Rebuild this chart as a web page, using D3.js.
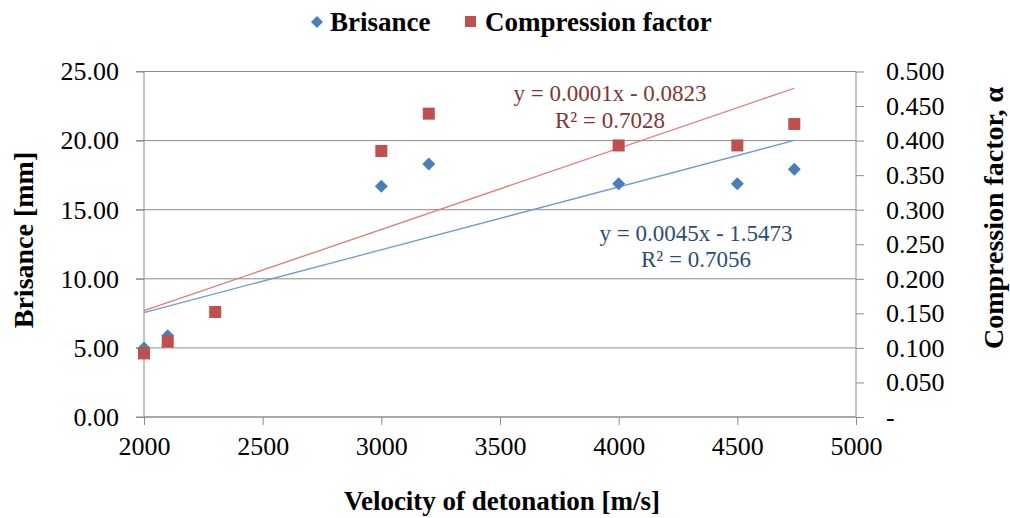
<!DOCTYPE html>
<html>
<head>
<meta charset="utf-8">
<script src="https://cdn.jsdelivr.net/npm/d3@7"></script>
<style>
body { margin: 0; background: #fff; }
svg, svg text { font-family: "Times New Roman", "Liberation Serif", Tinos, "DejaVu Serif", serif; }
</style>
</head>
<body>
<svg id="chart" width="1010" height="518"></svg>
<script>
// data
var velocity = [2000, 2100, 2300, 3000, 3200, 4000, 4500, 4740];
var brisance = [5.0, 5.88, 7.6, 16.7, 18.3, 16.88, 16.88, 17.92];
var compression = [0.092, 0.109, 0.152, 0.385, 0.439, 0.393, 0.393, 0.424];
var xTicks = [2000, 2500, 3000, 3500, 4000, 4500, 5000];
var leftTicks = [0, 5, 10, 15, 20, 25];
var rightTicks = [0, 0.05, 0.1, 0.15, 0.2, 0.25, 0.3, 0.35, 0.4, 0.45, 0.5];
var seriesNames = ["Brisance", "Compression factor"];
var redEq = ["y = 0.0001x - 0.0823", "R\u00b2 = 0.7028"];
var blueEq = ["y = 0.0045x - 1.5473", "R\u00b2 = 0.7056"];

var blue = "#4a7ebb", red = "#c0504d";
var svg = d3.select("#chart");

var x = d3.scaleLinear().domain([2000, 5000]).range([144, 856]);
var yL = d3.scaleLinear().domain([0, 25]).range([417, 71.5]);
var yR = d3.scaleLinear().domain([0, 0.5]).range([417, 71.5]);

// least squares fit
function fit(xs, ys) {
    var mx = d3.mean(xs), my = d3.mean(ys);
    var sxy = 0, sxx = 0;
    for (var i = 0; i < xs.length; i++) {
        sxy += (xs[i] - mx) * (ys[i] - my);
        sxx += (xs[i] - mx) * (xs[i] - mx);
    }
    var b = sxy / sxx;
    return {slope: b, icpt: my - b * mx};
}

function styleAxis(g) {
    g.attr("font-family", null).attr("font-size", 26);
    g.selectAll(".tick line").attr("stroke", "#8c8c8c");
    g.selectAll(".tick text").attr("fill", "#000");
}

// gridlines
svg.append("g").selectAll("line").data(leftTicks).enter().append("line")
    .attr("x1", 136).attr("x2", 856)
    .attr("y1", d => yL(d)).attr("y2", d => yL(d))
    .attr("stroke", "#8c8c8c").attr("stroke-width", 1);

// left axis
var gl = svg.append("g").attr("transform", "translate(144,0)")
    .call(d3.axisLeft(yL).tickValues(leftTicks).tickFormat(d3.format(".2f")).tickSize(8).tickPadding(17));
gl.select(".domain").attr("stroke", "#8c8c8c").attr("d", "M0," + yL(25) + "V" + yL(0));
styleAxis(gl);

// right axis
var gr = svg.append("g").attr("transform", "translate(856,0)")
    .call(d3.axisRight(yR).tickValues(rightTicks)
        .tickFormat(d => d === 0 ? "-" : d3.format(".3f")(d)).tickSize(8).tickPadding(22));
gr.select(".domain").attr("stroke", "#8c8c8c").attr("d", "M0," + yR(0.5) + "V" + yR(0));
styleAxis(gr);

// bottom axis
var gb = svg.append("g").attr("transform", "translate(0,417)")
    .call(d3.axisBottom(x).tickValues(xTicks).tickFormat(d3.format("d")).tickSize(8).tickPadding(12));
gb.select(".domain").attr("stroke", "#8c8c8c").attr("d", "M" + x(2000) + ",0H" + x(5000));
styleAxis(gb);

// trendlines
var xMin = d3.min(velocity), xMax = d3.max(velocity);
var fb = fit(velocity, brisance), fr = fit(velocity, compression);
svg.append("line")
    .attr("x1", x(xMin)).attr("x2", x(xMax))
    .attr("y1", yR(fr.slope * xMin + fr.icpt)).attr("y2", yR(fr.slope * xMax + fr.icpt))
    .attr("stroke", "#e07a77").attr("stroke-width", 1.3);
svg.append("line")
    .attr("x1", x(xMin)).attr("x2", x(xMax))
    .attr("y1", yL(fb.slope * xMin + fb.icpt)).attr("y2", yL(fb.slope * xMax + fb.icpt))
    .attr("stroke", "#6f9bd1").attr("stroke-width", 1.3);

// markers
svg.append("g").selectAll("path").data(velocity).enter().append("path")
    .attr("d", "M0,-6.5L6.5,0L0,6.5L-6.5,0Z")
    .attr("transform", (d, i) => "translate(" + x(d) + "," + yL(brisance[i]) + ")")
    .attr("fill", blue);
svg.append("g").selectAll("rect").data(velocity).enter().append("rect")
    .attr("x", d => x(d) - 6).attr("width", 12).attr("height", 12)
    .attr("y", (d, i) => yR(compression[i]) - 6)
    .attr("fill", red);

// trendline labels
svg.append("text").attr("x", 610).attr("y", 101).attr("text-anchor", "middle")
    .attr("font-size", 23).attr("fill", "#7f3533").text(redEq[0]);
svg.append("text").attr("x", 610).attr("y", 128).attr("text-anchor", "middle")
    .attr("font-size", 23).attr("fill", "#7f3533").text(redEq[1]);
svg.append("text").attr("x", 696).attr("y", 241).attr("text-anchor", "middle")
    .attr("font-size", 23).attr("fill", "#2c4d75").text(blueEq[0]);
svg.append("text").attr("x", 696).attr("y", 267).attr("text-anchor", "middle")
    .attr("font-size", 23).attr("fill", "#2c4d75").text(blueEq[1]);

// axis titles
svg.append("text").attr("transform", "translate(33,240) rotate(-90)")
    .attr("text-anchor", "middle").attr("font-size", 28).attr("font-weight", "bold")
    .text("Brisance [mm]");
svg.append("text").attr("transform", "translate(1003,218) rotate(-90)")
    .attr("text-anchor", "middle").attr("font-size", 28).attr("font-weight", "bold")
    .text("Compression factor, \u03b1");
svg.append("text").attr("x", 502).attr("y", 510)
    .attr("text-anchor", "middle").attr("font-size", 27).attr("font-weight", "bold")
    .text("Velocity of detonation  [m/s]");

// legend
var lg = svg.append("g");
lg.append("path").attr("d", "M0,-6L6,0L0,6L-6,0Z").attr("transform", "translate(317,22)").attr("fill", blue);
lg.append("text").attr("x", 330).attr("y", 31).attr("font-size", 27).attr("font-weight", "bold").text(seriesNames[0]);
lg.append("rect").attr("x", 465).attr("y", 16).attr("width", 11).attr("height", 11).attr("fill", red);
lg.append("text").attr("x", 485).attr("y", 31).attr("font-size", 27).attr("font-weight", "bold").text(seriesNames[1]);
</script>
</body>
</html>
